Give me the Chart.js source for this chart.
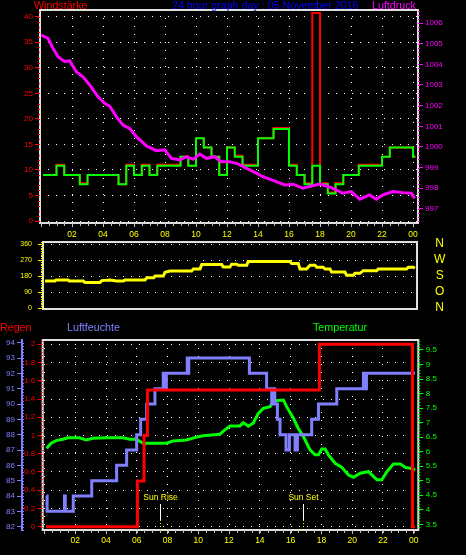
<!DOCTYPE html>
<html>
<head>
<meta charset="utf-8">
<script src="https://cdn.jsdelivr.net/npm/chart.js@4.4.0/dist/chart.umd.min.js"></script>
<style>
  html, body { margin: 0; padding: 0; background: #000; }
  #wrap { position: relative; width: 466px; height: 555px; background: #000; overflow: hidden;
          font-family: "Liberation Sans", Arial, sans-serif; }
  #wrap canvas { position: absolute; left: 0; }
  .lbl { position: absolute; font-size: 10.7px; line-height: 12px; white-space: nowrap; }
</style>
</head>
<body>
<div id="wrap">
  <canvas id="windChart" width="466" height="240" style="top:0"></canvas>
  <canvas id="dirChart" width="466" height="80" style="top:236px"></canvas>
  <canvas id="climaChart" width="466" height="239" style="top:316px"></canvas>
  <div class="lbl" style="left:34px;top:-1px;color:#ff0000">Windstärke</div>
  <div class="lbl" style="left:172px;top:-1px;color:#0000ff">24 hour graph day : 05 November 2016</div>
  <div class="lbl" style="left:372px;top:-1px;color:#ff00ff">Luftdruck</div>
  <div class="lbl" style="left:0;top:321px;color:#ff0000">Regen</div>
  <div class="lbl" style="left:67px;top:321px;color:#8080ff">Luftfeuchte</div>
  <div class="lbl" style="left:313px;top:321px;color:#00ff00">Temperatur</div>
</div>
<script>
// Stunden-Achse
var hourTicks = [0, 2, 4, 6, 8, 10, 12, 14, 16, 18, 20, 22, 24];
var hourLabels = ['', '02', '04', '06', '08', '10', '12', '14', '16', '18', '20', '22', '00'];

// Wind (km/h) und Böen, Treppenkurve ab Zeitpunkt
var windHours = [0.13, 1.0, 1.5, 2.5, 3.0, 5.0, 5.5, 6.0, 6.5, 7.0, 7.5, 9.0, 9.5, 10.0, 10.5, 11.0, 11.5, 12.0,
  12.5, 13.0, 14.0, 15.0, 16.0, 16.5, 17.0, 17.5, 18.0, 18.5, 19.0, 19.5, 20.5, 22.0, 22.5, 24.0, 24.15];
var windKmh = [9.0, 10.8, 9.0, 7.2, 9.0, 7.2, 10.8, 9.0, 10.8, 9.0, 10.8, 12.6, 10.8, 16.2, 14.4, 12.6, 9.0, 14.4,
  12.6, 10.8, 16.2, 18.0, 10.8, 9.0, 7.2, 10.8, 7.2, 5.4, 7.2, 9.0, 10.8, 12.6, 14.4, 12.6, 12.6];
var gustKmh = [9.0, 11.0, 9.0, 7.4, 9.0, 7.2, 11.0, 9.0, 11.0, 9.0, 11.0, 12.6, 10.8, 16.2, 14.4, 12.6, 9.0, 14.4,
  12.8, 11.0, 16.2, 18.2, 11.0, 9.0, 7.4, 40.7, 7.4, 5.6, 7.4, 9.0, 11.0, 12.6, 14.4, 12.6, 12.6];
var windTicks = [0, 5, 10, 15, 20, 25, 30, 35, 40];

// Luftdruck (hPa)
var pressureHours = [0.02, 0.45, 0.77, 1.1, 1.53, 1.85, 2.28, 2.71, 3.14, 3.68, 4.1, 4.43, 4.86, 5.29, 5.72, 6.15,
  6.8, 7.44, 7.98, 8.41, 8.95, 9.38, 9.81, 10.24, 10.67, 11.2, 11.63, 12.17, 12.71, 13.25, 13.89, 14.32, 14.75,
  15.18, 15.72, 16.26, 16.9, 17.44, 17.98, 18.41, 18.84, 19.48, 20.02, 20.56, 21.2, 21.63, 22.06, 22.71, 23.35,
  23.89, 24.1];
var pressureHpa = [1005.42, 1005.26, 1004.78, 1004.37, 1004.13, 1004.18, 1003.64, 1003.40, 1003.00, 1002.43,
  1002.11, 1001.98, 1001.47, 1001.06, 1000.90, 1000.50, 1000.05, 999.82, 999.86, 999.45, 999.37, 999.53, 999.40,
  999.66, 999.45, 999.53, 999.29, 999.29, 999.18, 998.97, 998.73, 998.56, 998.44, 998.32, 998.16, 998.20, 998.00,
  998.11, 998.20, 998.11, 998.00, 997.76, 997.84, 997.47, 997.68, 997.47, 997.68, 997.84, 997.79, 997.76, 997.52];
var pressureTicks = [997, 998, 999, 1000, 1001, 1002, 1003, 1004, 1005, 1006];

// Windrichtung (Grad)
var dirHours = [0.24, 0.88, 0.95, 1.74, 1.8, 2.71, 2.82, 3.79, 3.9, 4.43, 4.86, 5.29, 5.4, 6.69, 6.8, 7.25, 7.34,
  7.87, 7.98, 8.3, 9.7, 9.81, 10.24, 10.35, 11.64, 11.74, 12.17, 12.28, 12.6, 12.71, 13.25, 13.35, 16.05, 16.15,
  16.58, 16.69, 17.12, 17.34, 17.66, 17.77, 18.19, 18.3, 18.63, 18.73, 19.59, 19.7, 20.13, 20.24, 20.56, 20.77,
  21.64, 21.74, 23.57, 23.68, 24.0, 24.1];
var dirDeg = [152, 152, 157, 157, 152, 152, 144, 144, 154, 157, 152, 152, 157, 157, 170, 170, 180,
  180, 201, 208, 208, 219, 219, 244, 244, 231, 231, 246, 246, 240, 240, 261, 261, 250,
  250, 220, 220, 240, 240, 229, 229, 219, 219, 202, 202, 184, 184, 195, 195, 210,
  210, 219, 219, 229, 229, 223];
var dirTicks = [0, 90, 180, 270, 360];
var dirLetters = ['N', 'O', 'S', 'W', 'N'];

// Regen (mm), Treppenkurve
var rainHours = [0.1, 6.04, 6.47, 6.69, 17.87, 23.92, 24.09];
var rainMm = [0, 0.5, 1.0, 1.5, 2.0, 0, 0];
var rainTicks = [0, 0.2, 0.4, 0.6, 0.8, 1, 1.2, 1.4, 1.6, 1.8, 2];

// Luftfeuchte (%), Treppenkurve
var humHours = [0.12, 0.17, 1.30, 1.35, 1.87, 3.07, 4.69, 5.34, 5.99, 6.25, 6.64, 7.18, 7.72, 7.77, 7.82, 7.87,
  7.92, 9.28, 9.33, 9.38, 13.32, 14.44, 14.77, 14.82, 14.87, 14.92, 14.97, 15.14, 15.31, 15.70, 15.92, 16.29,
  16.34, 16.39, 16.44, 17.37, 17.81, 19.00, 20.73, 20.78, 20.83, 20.88, 20.93, 24.09];
var humPct = [84, 83, 84, 83, 84, 85, 86, 87, 88, 89, 90, 91, 92, 91, 92, 91,
  92, 93, 92, 93, 92, 91, 90, 91, 90, 91, 90, 89, 88, 87, 88, 87,
  88, 87, 88, 89, 90, 91, 92, 91, 92, 91, 92, 92];
var humTicks = [82, 83, 84, 85, 86, 87, 88, 89, 90, 91, 92, 93, 94];

// Temperatur (°C)
var tempHours = [0.14, 0.43, 0.76, 1.19, 1.52, 2.28, 2.71, 3.15, 4.02, 5.10, 5.54, 5.97, 6.41, 7.93, 8.36, 9.23,
  9.88, 10.31, 11.40, 11.73, 12.05, 12.70, 12.92, 13.25, 13.57, 13.90, 14.22, 14.66, 14.88, 15.53, 15.74, 16.18,
  16.50, 16.83, 17.26, 17.59, 17.81, 18.02, 18.24, 18.46, 18.89, 19.33, 19.76, 20.09, 20.52, 21.06, 21.28, 21.61,
  21.93, 22.26, 22.69, 23.13, 23.45, 23.78, 24.10];
var tempC = [6.12, 6.29, 6.38, 6.43, 6.48, 6.48, 6.40, 6.46, 6.48, 6.48, 6.43, 6.43, 6.29, 6.29, 6.37, 6.40,
  6.50, 6.55, 6.60, 6.75, 6.88, 6.88, 7.00, 6.88, 6.98, 7.32, 7.49, 7.55, 7.75, 7.78, 7.55, 7.15,
  6.80, 6.52, 6.06, 5.89, 5.89, 6.09, 6.09, 5.89, 5.60, 5.46, 5.20, 5.12, 5.26, 5.31, 5.20, 5.03,
  5.03, 5.31, 5.58, 5.58, 5.46, 5.43, 5.38];
var tempTicks = [3.5, 4, 4.5, 5, 5.5, 6, 6.5, 7, 7.5, 8, 8.5, 9, 9.5];

// Sonnenauf-/untergang
var sunHours = [7.5, 16.83];
var sunLabels = ['Sun Rise', 'Sun Set'];

Chart.defaults.font.family = '"Liberation Sans", Arial, sans-serif';
Chart.defaults.font.size = 8;

var DOTS = [1, 7];
var NONE = 'rgba(0,0,0,0)';

function pts(xs, ys) {
    return xs.map(function (x, i) { return { x: x, y: ys[i] }; });
}

function fixedTicks(list) {
    return function (s) { s.ticks = list.map(function (v) { return { value: v }; }); };
}

// weißer Rahmen um die Plotfläche
var frame = {
    id: 'frame',
    afterDraw: function (chart) {
        var a = chart.chartArea, ctx = chart.ctx;
        ctx.save();
        ctx.strokeStyle = '#e0e0e0';
        ctx.lineWidth = 2;
        ctx.strokeRect(a.left, a.top, a.right - a.left, a.bottom - a.top);
        ctx.restore();
    }
};

// kleine Zwischenstriche an den Achsen
function minorTicks(list) {
    return {
        id: 'minorTicks',
        afterDraw: function (chart) {
            var ctx = chart.ctx;
            list.forEach(function (m) {
                var s = chart.scales[m.scale];
                var k0 = Math.ceil(s.min / m.step - 1e-6), k1 = Math.floor(s.max / m.step + 1e-6);
                var edge = m.edge !== undefined ? m.edge : (s.position === 'left' ? s.right : s.left);
                ctx.save();
                ctx.strokeStyle = m.color;
                ctx.lineWidth = 1;
                ctx.beginPath();
                for (var k = k0; k <= k1; k++) {
                    var p = Math.round(s.getPixelForValue(k * m.step)) + 0.5;
                    if (s.isHorizontal()) {
                        ctx.moveTo(p, s.top);
                        ctx.lineTo(p, s.top + m.len);
                    } else {
                        var dir = ((s.position === 'left') !== !!m.inward) ? -1 : 1;
                        ctx.moveTo(edge, p);
                        ctx.lineTo(edge + dir * m.len, p);
                    }
                }
                ctx.stroke();
                ctx.restore();
            });
        }
    };
}

// Sun Rise / Sun Set Markierungen
var sunMarks = {
    id: 'sunMarks',
    afterDraw: function (chart) {
        var ctx = chart.ctx, xs = chart.scales.x, b = chart.chartArea.bottom;
        ctx.save();
        ctx.font = '8.5px "Liberation Sans", Arial, sans-serif';
        ctx.textAlign = 'center';
        ctx.textBaseline = 'middle';
        sunHours.forEach(function (h, i) {
            var x = Math.round(xs.getPixelForValue(h)) + 0.5;
            ctx.fillStyle = '#ffff00';
            ctx.fillText(sunLabels[i], x, b - 32.5);
            ctx.strokeStyle = '#ffffff';
            ctx.lineWidth = 1;
            ctx.setLineDash([]);
            ctx.beginPath(); ctx.moveTo(x, b - 26); ctx.lineTo(x, b - 10); ctx.stroke();
            ctx.strokeStyle = '#ffff00';
            ctx.setLineDash([1, 2]);
            ctx.beginPath(); ctx.moveTo(x, b - 10); ctx.lineTo(x, b); ctx.stroke();
        });
        ctx.restore();
    }
};

function hourAxis(min, max, height, pad, gridAtZero) {
    return {
        type: 'linear', min: min, max: max,
        afterBuildTicks: fixedTicks(hourTicks),
        afterFit: function (s) { s.height = height; },
        ticks: {
            color: '#ffff00', font: { size: 8.5 }, padding: pad, maxRotation: 0, autoSkip: false,
            callback: function (v, i) { return hourLabels[i]; }
        },
        grid: {
            color: function (c) {
                return (!gridAtZero && c.tick && c.tick.value === 0) ? NONE : '#ffffff';
            },
            tickColor: '#c0c0c0', tickLength: 4
        },
        border: { display: false, dash: DOTS }
    };
}

function valueAxis(pos, min, max, list, width, color, pad, withGrid, extra) {
    var ax = {
        position: pos, min: min, max: max,
        afterBuildTicks: fixedTicks(list),
        afterFit: function (s) { s.width = width; },
        ticks: { color: color, padding: pad, autoSkip: false, callback: function (v) { return String(v); } },
        grid: { color: '#ffffff', drawOnChartArea: withGrid, tickColor: color, tickLength: 5 },
        border: { display: false, dash: DOTS }
    };
    if (extra) { Object.keys(extra).forEach(function (k) { ax[k] = extra[k]; }); }
    return ax;
}

var common = {
    responsive: false, animation: false, events: [],
    elements: { point: { radius: 0 }, line: { tension: 0 } },
    plugins: { legend: { display: false }, tooltip: { enabled: false } }
};

function opts(extra) {
    var o = {};
    Object.keys(common).forEach(function (k) { o[k] = common[k]; });
    Object.keys(extra).forEach(function (k) { o[k] = extra[k]; });
    return o;
}

// Windstärke / Luftdruck
new Chart(document.getElementById('windChart'), {
    type: 'line',
    data: {
        datasets: [
            { data: pts(pressureHours, pressureHpa), yAxisID: 'yP', borderColor: '#ff00ff', borderWidth: 3, order: 0 },
            { data: pts(windHours, windKmh), yAxisID: 'y', stepped: true, borderColor: '#00ff00', borderWidth: 2, order: 1 },
            { data: pts(windHours, gustKmh), yAxisID: 'y', stepped: true, borderColor: '#ff0000', borderWidth: 2, order: 2 }
        ]
    },
    options: opts({
        layout: { padding: { top: 10, left: 0, right: 0, bottom: 0 } },
        scales: {
            x: hourAxis(-0.065, 24.32, 17, 3, false),
            y: valueAxis('left', -0.39, 41.31, windTicks, 40, '#ff0000', 2, true),
            yP: valueAxis('right', 996.32, 1006.63, pressureTicks, 48, '#ff00ff', 2, false)
        }
    }),
    plugins: [frame, minorTicks([
        { scale: 'x', step: 0.5, len: 3, color: '#c0c0c0' },
        { scale: 'y', step: 1, len: 2, color: '#ff0000' },
        { scale: 'yP', step: 0.2, len: 2, color: '#ff00ff' }
    ])]
});

// Windrichtung
new Chart(document.getElementById('dirChart'), {
    type: 'line',
    data: {
        datasets: [
            { data: pts(dirHours, dirDeg), yAxisID: 'y', borderColor: '#ffff00', borderWidth: 3 }
        ]
    },
    options: opts({
        layout: { padding: { top: 6, left: 0, right: 0, bottom: 7 } },
        scales: {
            x: { type: 'linear', min: 0.11, max: 24.24, display: false },
            y: {
                position: 'left', min: -5.6, max: 371.25,
                afterBuildTicks: fixedTicks(dirTicks),
                afterFit: function (s) { s.width = 43; },
                ticks: { color: '#ffff00', padding: 0, autoSkip: false, font: { size: 7, lineHeight: 1 },
                    callback: function (v) { return String(v); } },
                grid: { color: '#ffffff', tickColor: NONE, tickLength: 11 },
                border: { display: false, dash: DOTS }
            },
            yN: {
                position: 'right', min: -5.6, max: 371.25,
                afterBuildTicks: fixedTicks(dirTicks),
                afterFit: function (s) { s.width = 49; },
                ticks: {
                    color: '#ffff00', padding: 0, crossAlign: 'center', autoSkip: false,
                    font: { size: 12, lineHeight: 1 },
                    callback: function (v, i) { return dirLetters[i]; }
                },
                grid: { drawOnChartArea: false, drawTicks: true, tickLength: 17, tickColor: NONE },
                border: { display: false }
            }
        }
    }),
    plugins: [frame, minorTicks([
        { scale: 'y', step: 90, len: 5, color: '#ffff00' },
        { scale: 'y', step: 10, len: 2, color: '#ffff00' }
    ])]
});

// Regen / Luftfeuchte / Temperatur
new Chart(document.getElementById('climaChart'), {
    type: 'line',
    data: {
        datasets: [
            { data: pts(rainHours, rainMm), yAxisID: 'yR', stepped: true, borderColor: '#ff0000', borderWidth: 3, order: 0 },
            { data: pts(humHours, humPct), yAxisID: 'yH', stepped: true, borderColor: '#8080ff', borderWidth: 3, order: 1 },
            { data: pts(tempHours, tempC), yAxisID: 'yT', borderColor: '#00ff00', borderWidth: 3, order: 2 }
        ]
    },
    options: opts({
        layout: { padding: { top: 24, left: 0, right: 0, bottom: 0 } },
        scales: {
            x: hourAxis(-0.117, 24.30, 25, 2, true),
            yR: valueAxis('left', -0.036, 2.047, rainTicks, 20.7, '#ff0000', 2.5, true, { weight: 0 }),
            yH: valueAxis('left', 81.785, 94.176, humTicks, 22, '#8080ff', 2, false,
                { weight: 1, border: { display: true, color: '#8080ff', width: 2 } }),
            yT: valueAxis('right', 3.304, 9.844, tempTicks, 47.7, '#00ff00', 2.5, false)
        }
    }),
    plugins: [frame, minorTicks([
        { scale: 'x', step: 0.5, len: 3, color: '#c0c0c0' },
        { scale: 'yR', step: 0.04, len: 2, color: '#ff0000' },
        { scale: 'yH', step: 0.2, len: 2, color: '#8080ff', inward: true },
        { scale: 'yT', step: 0.1, len: 2, color: '#00ff00' }
    ]), sunMarks]
});
</script>
</body>
</html>
